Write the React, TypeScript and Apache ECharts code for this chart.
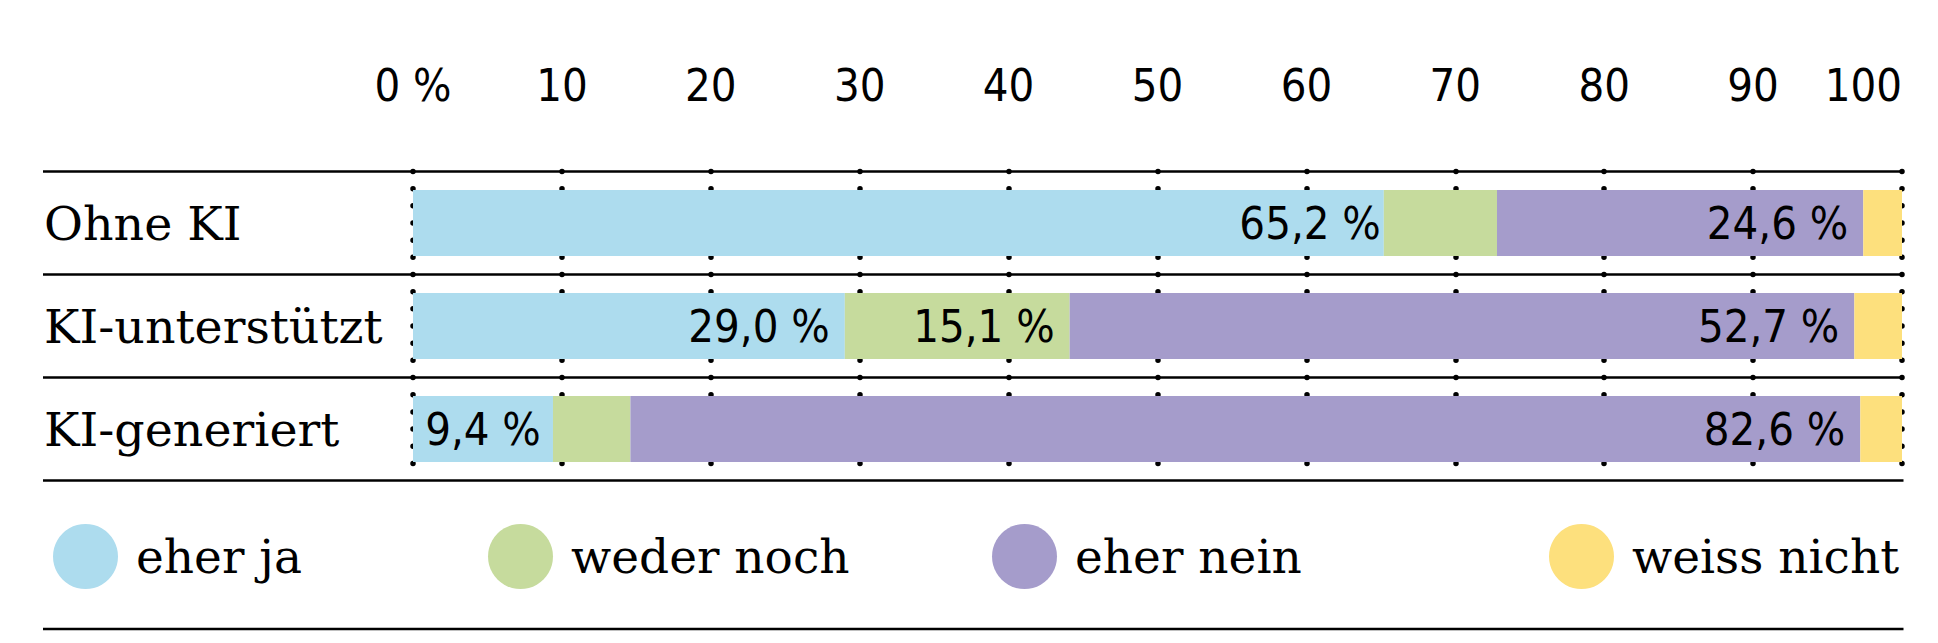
import React, { useEffect, useRef } from 'react';
import * as echarts from 'echarts';

// ---- data ----
const categories = ['Ohne KI', 'KI-unterstützt', 'KI-generiert'];
const seriesNames = ['eher ja', 'weder noch', 'eher nein', 'weiss nicht'];
const eherJa = [65.2, 29.0, 9.4];
const wederNoch = [7.6, 15.1, 5.2];
const eherNein = [24.6, 52.7, 82.6];
const weissNicht = [2.6, 3.2, 2.8];
const tickLabels = ['0 %', '10', '20', '30', '40', '50', '60', '70', '80', '90', '100'];

// ---- styles ----
const colors = ['#ADDCEE', '#C6DB9D', '#A59CCB', '#FDE07D'];
const SANS = '"DejaVu Sans Condensed", "Liberation Sans", sans-serif';
const SERIF = '"DejaVu Serif", "Liberation Serif", serif';
const W = 1938;
const H = 643;
const LINE_LEFT = 43;
const LEGEND_LEFTS = [53, 488, 992, 1549];

const fmt = (v: number) => v.toFixed(1).replace('.', ',') + ' %';

export default function App() {
  const ref = useRef<HTMLDivElement>(null);

  useEffect(() => {
    if (!ref.current) return;
    const chart = echarts.init(ref.current, undefined, { renderer: 'svg' });
    const allValues = [eherJa, wederNoch, eherNein, weissNicht];

    const series = allValues.map((vals, si) => ({
      name: seriesNames[si],
      type: 'bar',
      stack: 'total',
      barWidth: '64%',
      itemStyle: { color: colors[si] },
      emphasis: { disabled: true },
      data: vals.map((v, ci) => {
        const show = si !== 3 && v >= 9;
        const narrow = v < 12;
        // the first row's "eher ja" label sits almost against the segment's end
        const distance = si === 0 && ci === 0 ? 3 : 15;
        return {
          value: v,
          label: {
            show,
            position: narrow ? 'inside' : 'insideRight',
            distance,
            formatter: () => fmt(v),
            fontFamily: SANS,
            fontSize: 45,
            color: '#000',
          },
        };
      }),
    }));

    const legends = seriesNames.map((name, i) => ({
      data: [name],
      left: LEGEND_LEFTS[i],
      top: 524,
      padding: 0,
      icon: 'circle',
      itemWidth: 65,
      itemHeight: 65,
      selectedMode: false,
      textStyle: {
        fontFamily: SERIF,
        fontSize: 47,
        color: '#000',
        padding: [0, 0, 0, 13],
      },
    }));

    chart.setOption({
      animation: false,
      backgroundColor: '#fff',
      grid: { left: 413, right: 36, top: 171.5, bottom: 162.5, containLabel: false },
      legend: legends,
      xAxis: {
        type: 'value',
        position: 'top',
        min: 0,
        max: 100,
        interval: 10,
        axisLine: { show: false },
        axisTick: { show: false },
        axisLabel: {
          margin: 64,
          fontFamily: SANS,
          fontSize: 45,
          color: '#000',
          alignMaxLabel: 'right',
          formatter: (v: number) => tickLabels[Math.round(v / 10)],
        },
        splitLine: {
          show: true,
          lineStyle: { color: '#000', width: 5.5, type: [0, 17.17], cap: 'round' },
        },
      },
      yAxis: {
        type: 'category',
        inverse: true,
        data: categories,
        axisLine: { show: false },
        axisTick: { show: false },
        splitLine: { show: false },
        axisLabel: {
          margin: 369,
          align: 'left',
          fontFamily: SERIF,
          fontSize: 47.5,
          color: '#000',
          padding: [0, 0, 8, 0],
        },
      },
      series,
    });

    const c0 = chart.convertToPixel({ yAxisIndex: 0 }, categories[0]) as number;
    const c1 = chart.convertToPixel({ yAxisIndex: 0 }, categories[1]) as number;
    const band = c1 - c0;
    const xEnd = (chart.convertToPixel({ xAxisIndex: 0 }, 100) as number) + 1.5;
    const ys: number[] = [];
    for (let k = 0; k <= categories.length; k++) ys.push(c0 - band / 2 + k * band);
    ys.push(629);
    chart.setOption({
      graphic: ys.map((y) => ({
        type: 'line',
        shape: { x1: LINE_LEFT, y1: y, x2: xEnd, y2: y },
        style: { stroke: '#000', lineWidth: 2.5 },
        z: 1,
      })),
    });

    return () => chart.dispose();
  }, []);

  return (
    <div
      ref={ref}
      style={{ position: 'absolute', left: 0, top: 0, width: W, height: H }}
    />
  );
}
